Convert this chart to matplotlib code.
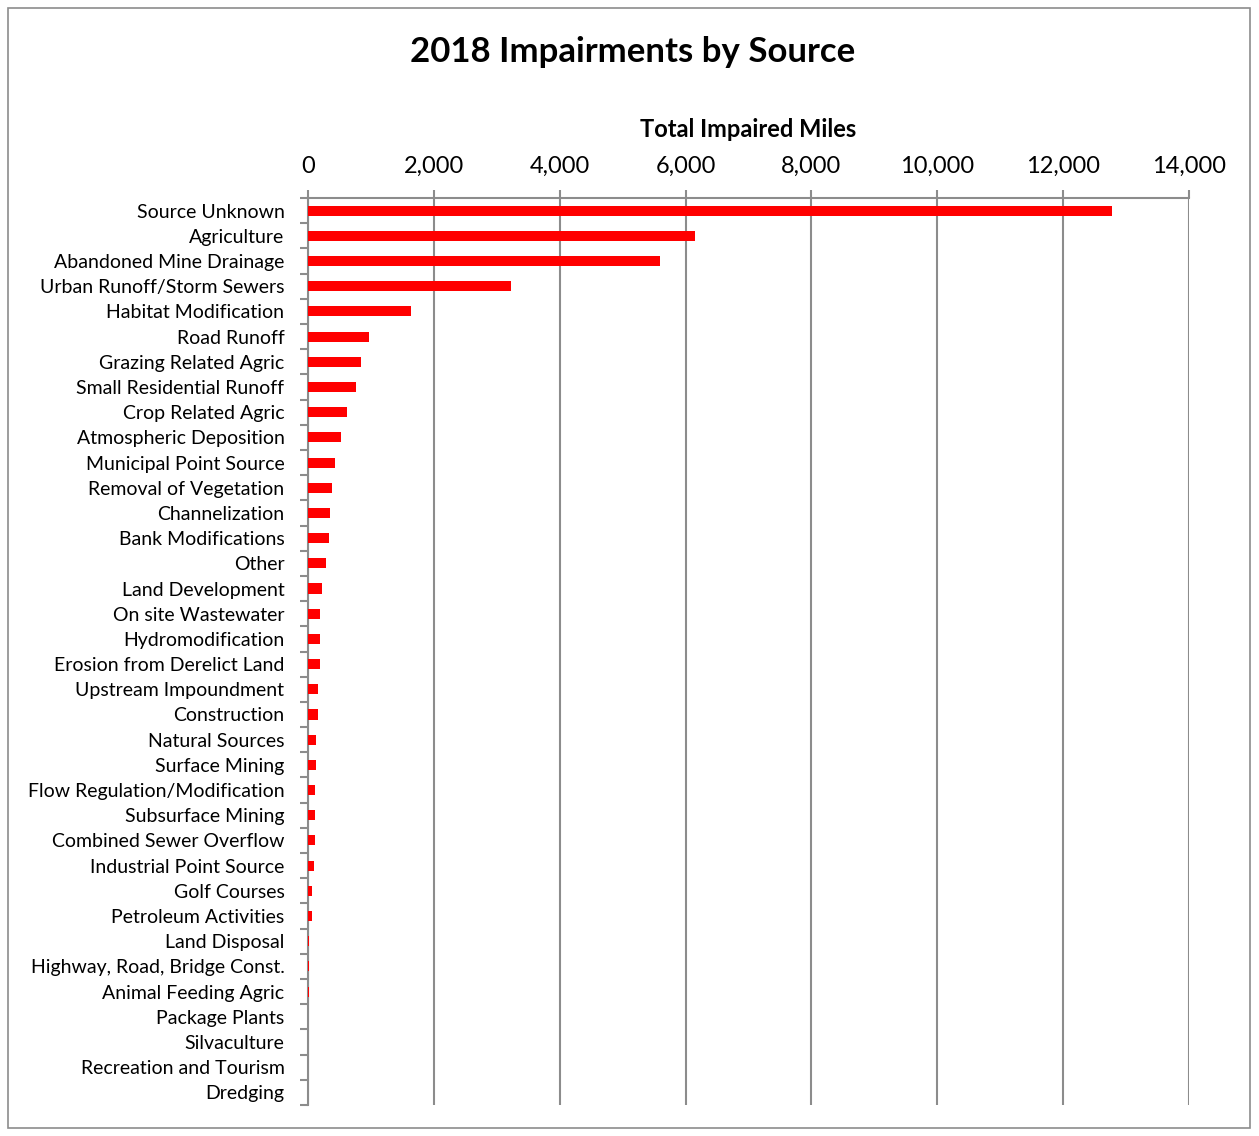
import numpy as np
import matplotlib
matplotlib.use("Agg")
import matplotlib.pyplot as plt
from matplotlib.ticker import FuncFormatter, FixedLocator
from matplotlib.patches import Rectangle

sources = ["Source Unknown", "Agriculture", "Abandoned Mine Drainage",
           "Urban Runoff/Storm Sewers", "Habitat Modification", "Road Runoff",
           "Grazing Related Agric", "Small Residential Runoff", "Crop Related Agric",
           "Atmospheric Deposition", "Municipal Point Source", "Removal of Vegetation",
           "Channelization", "Bank Modifications", "Other", "Land Development",
           "On site Wastewater", "Hydromodification", "Erosion from Derelict Land",
           "Upstream Impoundment", "Construction", "Natural Sources", "Surface Mining",
           "Flow Regulation/Modification", "Subsurface Mining", "Combined Sewer Overflow",
           "Industrial Point Source", "Golf Courses", "Petroleum Activities",
           "Land Disposal", "Highway, Road, Bridge Const.", "Animal Feeding Agric",
           "Package Plants", "Silvaculture", "Recreation and Tourism", "Dredging"]
miles = [12780, 6150, 5590, 3220, 1640, 965, 842, 758, 620, 529, 424, 386,
         345, 329, 291, 227, 195, 190, 185, 159, 154, 127, 127, 111, 111, 105,
         95, 64, 64, 20, 8, 8, 5, 2, 0, 0]
xticks = [0, 2000, 4000, 6000, 8000, 10000, 12000, 14000]

plt.rcParams['font.family'] = ['Lato', 'DejaVu Sans']
grey = '#8c8c8c'

fig = plt.figure(figsize=(12.59, 11.36), dpi=100)
fig.patches.append(Rectangle((8/1259., 8/1136.), 1242/1259., 1120/1136., transform=fig.transFigure,
                             fill=False, edgecolor=grey, lw=1.2))
ax = fig.add_axes((308/1259., 1 - 1105/1136., 881/1259., 907/1136.))

y = np.arange(len(sources))
ax.barh(y, miles, height=0.4, color='#ff0000', zorder=3)
ax.set_ylim(len(sources) - 0.5, -0.5)
ax.set_xlim(0, 14000)

ax.set_yticks(y)
ax.set_yticklabels(sources, fontsize=14)
ax.yaxis.set_minor_locator(FixedLocator(np.arange(-0.5, len(sources), 1)))
ax.tick_params(axis='y', which='major', length=0, pad=17)
ax.tick_params(axis='y', which='minor', length=6, color=grey, width=1.5)

ax.xaxis.tick_top()
ax.xaxis.set_label_position('top')
ax.set_xticks(xticks)
ax.xaxis.set_major_formatter(FuncFormatter(lambda v, pos: '{:,.0f}'.format(v)))
ax.tick_params(axis='x', which='major', length=6, color=grey, width=1.5, labelsize=17, pad=9)
ax.set_xlabel('Total Impaired Miles', fontsize=17, fontweight='bold', labelpad=14)
ax.grid(axis='x', color=grey, lw=1.5, zorder=0)

ax.spines['right'].set_visible(False)
ax.spines['bottom'].set_visible(False)
ax.spines['top'].set_color(grey)
ax.spines['left'].set_color(grey)
ax.spines['top'].set_linewidth(1.5)
ax.spines['left'].set_linewidth(1.5)

fig.text(0.5025, 1 - 52/1136., '2018 Impairments by Source', ha='center', va='center',
         fontsize=25, fontweight='bold')

fig.savefig('out.png', dpi=100)
